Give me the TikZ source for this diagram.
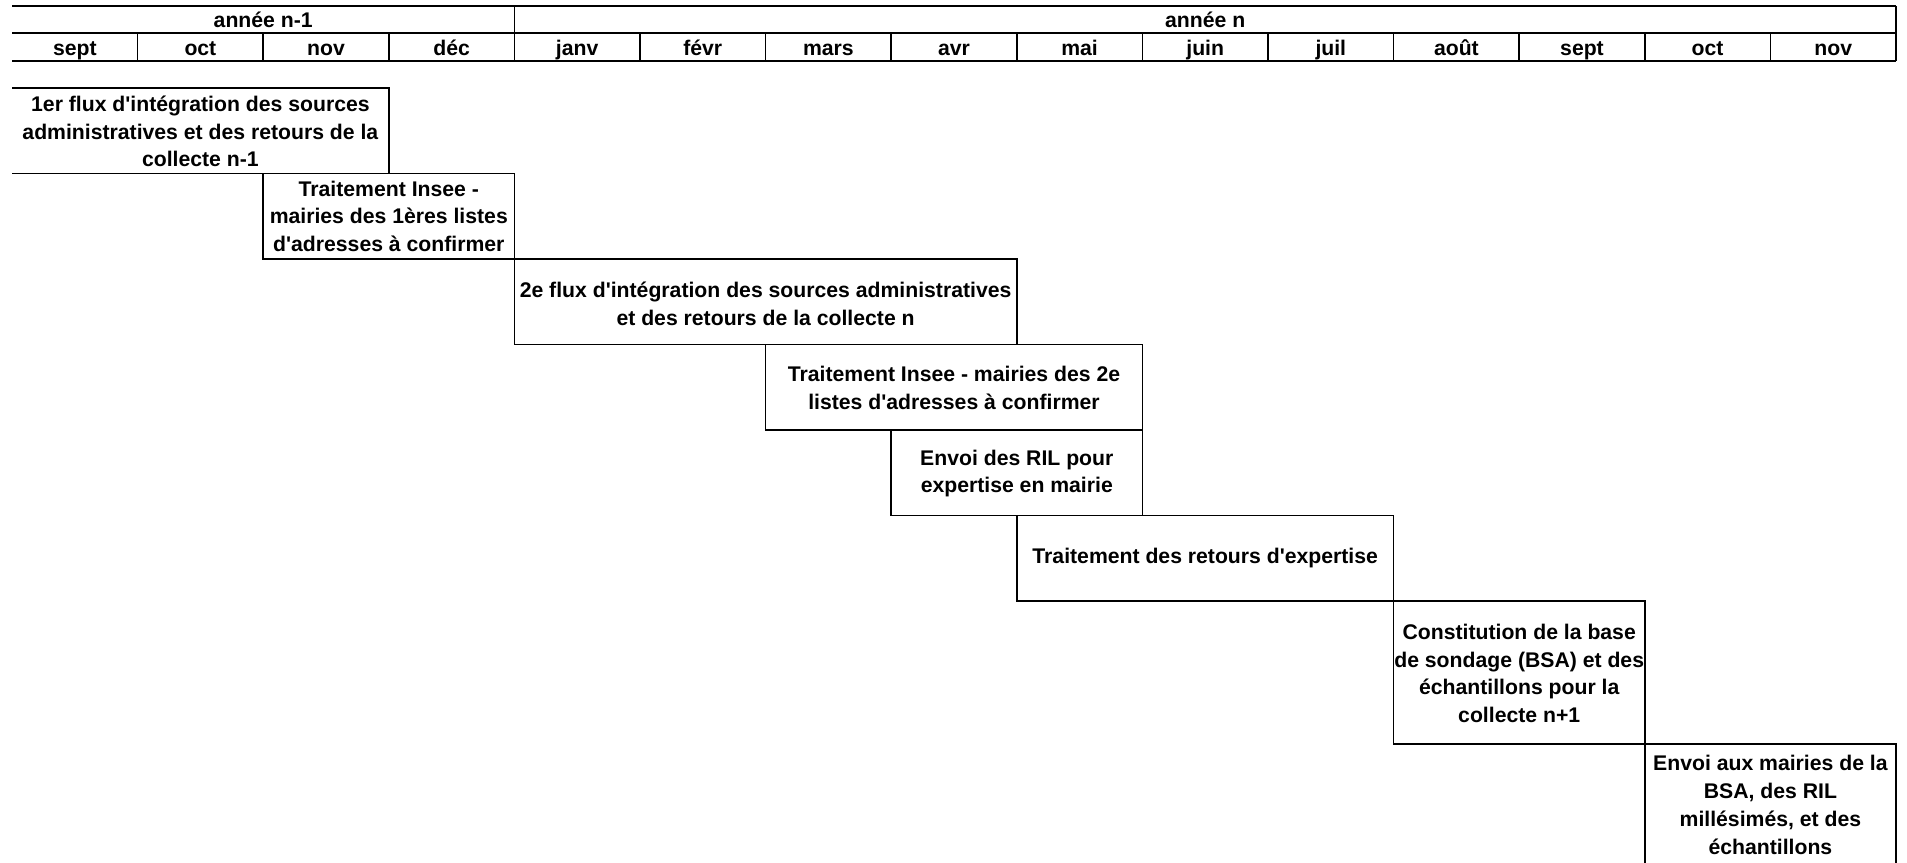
\documentclass[tikz,border=0pt]{standalone}
\usepackage{fontspec}
\setmainfont{Liberation Sans}
\usepackage{tikz}
\newcommand{\ap}{\textquotesingle}

\begin{document}
\begin{tikzpicture}[x=0.75pt,y=-0.75pt,line width=1.1pt,
  every node/.style={font=\bfseries\fontsize{15.9}{20.8}\selectfont,align=center,inner sep=0pt}]
  \useasboundingbox (0,0) rectangle (1907,863);

  % header: years and months
  \draw (12,6) -- (1896,6);
  \draw (12,33) -- (1896,33);
  \draw (12,61) -- (1896,61);
  \draw (514.4,6) -- (514.4,33);
  \draw (1896,6) -- (1896,61);
  \foreach \i in {1,...,14} {
    \draw ({12+125.6*\i},33) -- ({12+125.6*\i},61);
  }
  \node[anchor=base] (an1) at (263.2,28) {année n-1};
  \node[anchor=base] (an) at (1205.2,28) {année n};
  \foreach \m [count=\i from 0] in {sept,oct,nov,déc,janv,févr,mars,avr,mai,juin,juil,août,sept,oct,nov} {
    \node[anchor=base] (m\i) at ({12+125.6*(\i+0.5)},55.5) {\m};
  }

  % 1er flux (no left side)
  \node (flux1) at (200.4,131.5) {1er flux d\ap intégration des sources\\administratives et des retours de la\\collecte n-1};
  \draw (12,88) -- (388.8,88) -- (388.8,173.5) -- (12,173.5);

  % traitement des 1eres listes
  \node (insee1) at (388.8,216.25) {Traitement Insee -\\mairies des 1ères listes\\d\ap adresses à confirmer};
  \draw (263.2,173.5) rectangle (514.4,259);

  % 2e flux
  \node (flux2) at (765.6,304) {2e flux d\ap intégration des sources administratives\\et des retours de la collecte n};
  \draw (514.4,259) rectangle (1016.8,344.5);

  % traitement des 2e listes
  \node (insee2) at (954,388) {Traitement Insee - mairies des 2e\\listes d\ap adresses à confirmer};
  \draw (765.6,344.5) rectangle (1142.4,430);

  % RIL en mairie
  \node (ril) at (1016.8,473.5) {Envoi des RIL pour\\expertise en mairie};
  \draw (891.2,430) rectangle (1142.4,515.5);

  \node (retours) at (1205.2,558.25) {Traitement des retours d\ap expertise};
  \draw (1016.8,515.5) rectangle (1393.6,601);

  % base de sondage
  \node (bsa) at (1519.2,673.5) {Constitution de la base\\de sondage (BSA) et des\\échantillons pour la\\collecte n+1};
  \draw (1393.6,601) rectangle (1644.8,744);

  \node (envoi) at (1770.4,805) {Envoi aux mairies de la\\BSA, des RIL\\millésimés, et des\\échantillons};
  \draw (1644.8,744) rectangle (1896,866);

\end{tikzpicture}
\end{document}
